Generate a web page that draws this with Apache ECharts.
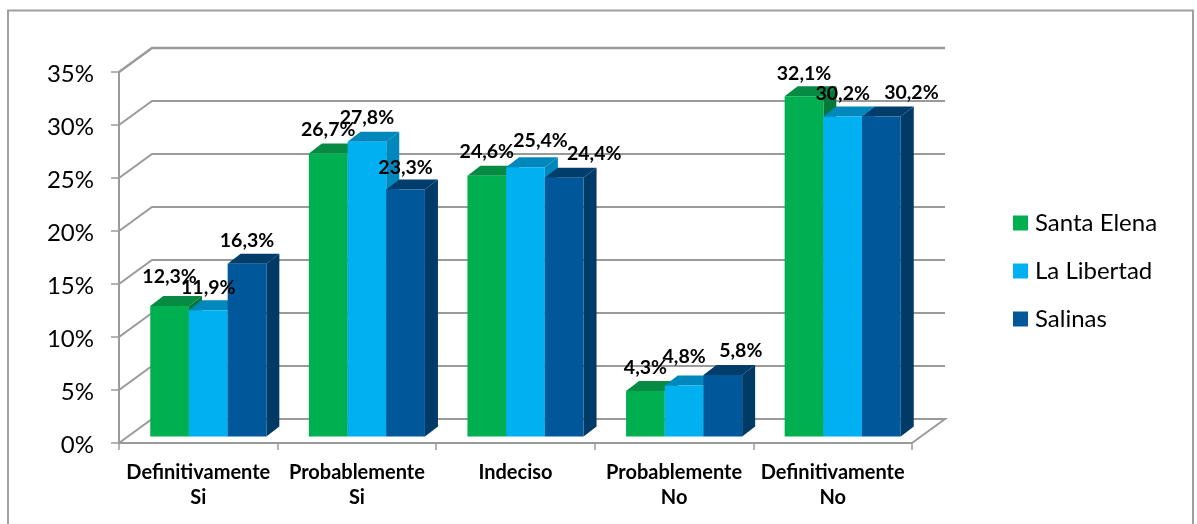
<!DOCTYPE html>
<html><head><meta charset="utf-8">
<style>html,body{margin:0;padding:0;background:#fff}#c{width:1197px;height:524px}</style>
<script src="https://cdn.jsdelivr.net/npm/echarts@6/dist/echarts.min.js"></script>
</head><body><div id="c"></div>
<script>
const categories = ['Definitivamente\nSi','Probablemente\nSi','Indeciso','Probablemente\nNo','Definitivamente\nNo'];
const santaElena = [12.3,26.7,24.6,4.3,32.1];
const laLibertad = [11.9,27.8,25.4,4.8,30.2];
const salinas = [16.3,23.3,24.4,5.8,30.2];
const yTicks = [0,5,10,15,20,25,30,35];
const FONT = 'Lato, Carlito, Calibri, sans-serif';
const WALL_DX = 33, WALL_DY = 24, BAR_DX = 13, BAR_DY = 10, MID_DX = 10, MID_DY = 6.5, BAR_W = 0.244;
const GRID_COLOR = '#9a9a9a';
// hand-moved data labels in the original: [series][category] -> [dx, dy]
const LABEL_NUDGE = [
  [[0,-5],[0,0],[0,0],[0,1],[0,1]],
  [[0,1],[0,0],[15,-3],[0,-5],[0,1]],
  [[0,1],[0,2],[30,0],[18,0],[30,0]]
];

function barSeries(name, values, idx, front, top, side) {
  return {
    type: 'custom', name, data: values, z: 3, color: front, clip: false,
    renderItem(params, api) {
      const cat = params.dataIndex, v = api.value(1);
      const band = api.size([1, 0])[0], w = band * BAR_W;
      const base = api.coord([cat, 0]), head = api.coord([cat, v]);
      const x0 = base[0] + MID_DX + (idx - 1.5) * w, x1 = x0 + w;
      const y0 = base[1] - MID_DY, y1 = head[1] - MID_DY;
      const nudge = LABEL_NUDGE[idx][cat];
      return { type: 'group', children: [
        { type: 'polygon', shape: { points: [[x1,y0],[x1+BAR_DX,y0-BAR_DY],[x1+BAR_DX,y1-BAR_DY],[x1,y1]] }, style: { fill: side } },
        { type: 'polygon', shape: { points: [[x0,y1],[x0+BAR_DX,y1-BAR_DY],[x1+BAR_DX,y1-BAR_DY],[x1,y1]] }, style: { fill: top } },
        { type: 'rect', shape: { x: x0, y: y1, width: w, height: y0 - y1 }, style: { fill: front } },
        { type: 'text', z2: 20, x: (x0 + x1) / 2 + nudge[0], y: y1 - 24 + nudge[1], style: {
            text: v.toFixed(1).replace('.', ',') + '%', fill: '#000',
            font: 'bold 19.5px ' + FONT, align: 'center', verticalAlign: 'middle' } }
      ]};
    },
    encode: { x: 0, y: 1 }
  };
}
const toPairs = a => a.map((v, i) => [i, v]);

const chart = echarts.init(document.getElementById('c'), null, { renderer: 'canvas' });
chart.setOption({
  animation: false,
  backgroundColor: '#fff',
  graphic: [{ type: 'rect', z: 0, shape: { x: 8, y: 10.5, width: 1185, height: 540 },
              style: { fill: 'none', stroke: '#a0a0a0', lineWidth: 2 } }],
  legend: {
    left: 1013, top: 210, padding: 0, orient: 'vertical', itemWidth: 15, itemHeight: 15, itemGap: 22,
    icon: 'rect', data: ['Santa Elena','La Libertad','Salinas'],
    textStyle: { fontFamily: FONT, fontSize: 24, color: '#000', padding: [0,0,0,2], lineHeight: 26 }
  },
  grid: { left: 119, top: 72, width: 793, height: 371 },
  xAxis: {
    type: 'category', data: categories, boundaryGap: true,
    axisLine: { lineStyle: { color: GRID_COLOR, width: 2 } },
    axisTick: { show: true, alignWithLabel: false, length: 7, lineStyle: { color: GRID_COLOR, width: 1.5 } },
    axisLabel: { interval: 0, color: '#000', fontFamily: FONT, fontWeight: 'bold', fontSize: 20, lineHeight: 25, margin: 17 }
  },
  yAxis: {
    type: 'value', min: 0, max: 35, interval: 5,
    axisLine: { show: true, lineStyle: { color: GRID_COLOR, width: 2 } },
    axisTick: { show: true, length: 8, lineStyle: { color: GRID_COLOR, width: 1.5 } },
    splitLine: { show: false },
    axisLabel: { formatter: '{value}%', color: '#000', fontFamily: FONT, fontSize: 24, margin: 25, verticalAlign: 'top', lineHeight: 4 }
  },
  series: [
    {
      type: 'custom', name: 'walls', z: 1, clip: false, silent: true,
      data: yTicks.map(t => [0, t]),
      encode: { x: 0, y: 1 },
      renderItem(params, api) {
        const t = api.value(1);
        const left = api.coord([0, t])[1];
        const rect = params.coordSys;
        const xL = rect.x, xR = rect.x + rect.width;
        const pts = [[xL, left], [xL + WALL_DX, left - WALL_DY], [xR + WALL_DX, left - WALL_DY]];
        if (t === 0) pts.push([xR, left]);
        return { type: 'polyline', shape: { points: pts }, style: { fill: 'none', stroke: GRID_COLOR, lineWidth: t === 35 ? 2.5 : 2 } };
      }
    },
    barSeries('Santa Elena', toPairs(santaElena), 0, '#00B050', '#078A42', '#06793A'),
    barSeries('La Libertad', toPairs(laLibertad), 1, '#00B0F0', '#0088BC', '#0088BC'),
    barSeries('Salinas', toPairs(salinas), 2, '#00589B', '#003D6B', '#003A66')
  ]
});
</script></body></html>
